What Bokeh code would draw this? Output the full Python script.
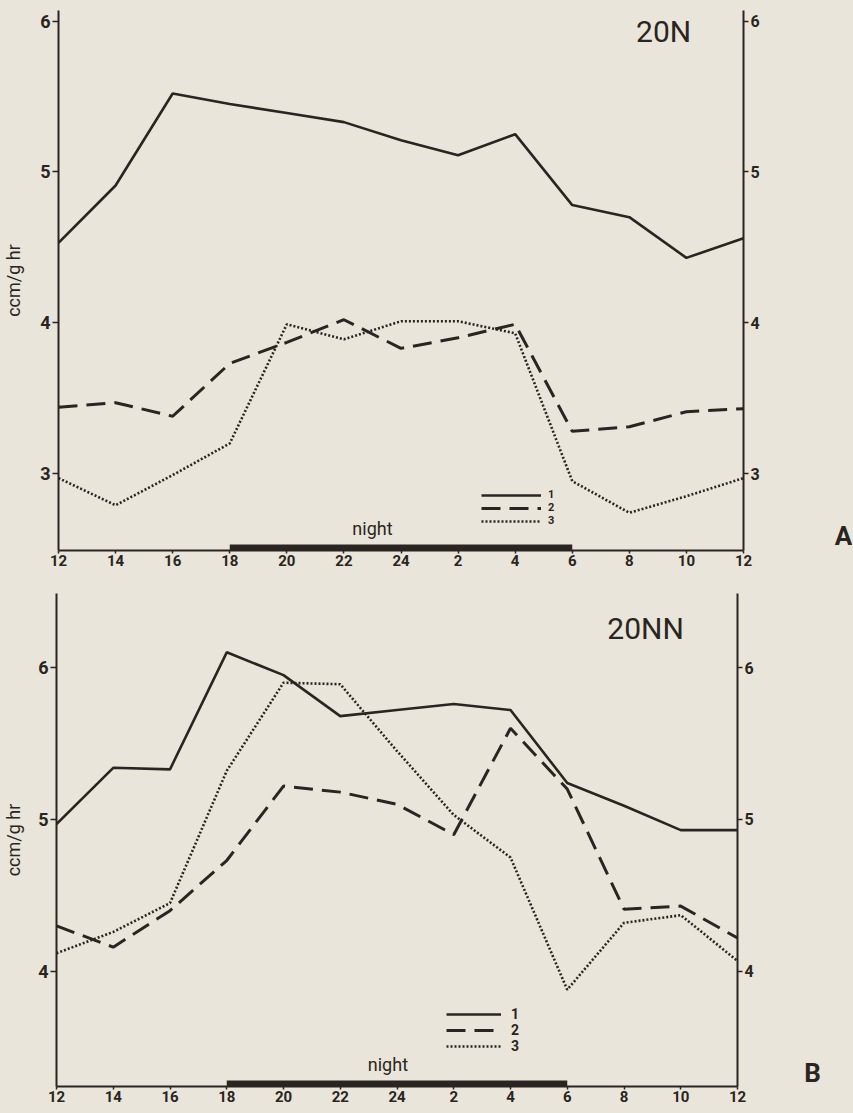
from bokeh.plotting import figure
from bokeh.layouts import column, row
from bokeh.models import Range1d, LinearAxis, FixedTicker, Legend, LegendItem, Label
from bokeh.embed import file_html
from bokeh.resources import INLINE

# ---- data ----
hours = [12, 14, 16, 18, 20, 22, 24, 26, 28, 30, 32, 34, 36]
hour_labels = ["12", "14", "16", "18", "20", "22", "24", "2", "4", "6", "8", "10", "12"]
night_start = [18]
night_end = [30]

# Panel A (20N)
a_series1 = [4.53, 4.91, 5.52, 5.45, 5.39, 5.33, 5.21, 5.11, 5.25, 4.78, 4.70, 4.43, 4.56]
a_series2 = [3.44, 3.47, 3.38, 3.73, 3.87, 4.02, 3.83, 3.90, 3.99, 3.28, 3.31, 3.41, 3.43]
a_series3 = [2.97, 2.79, 2.99, 3.20, 3.99, 3.89, 4.01, 4.01, 3.93, 2.95, 2.74, 2.85, 2.97]
a_yticks = [3, 4, 5, 6]

# Panel B (20NN)
b_series1 = [4.97, 5.34, 5.33, 6.10, 5.95, 5.68, 5.72, 5.76, 5.72, 5.24, 5.09, 4.93, 4.93]
b_series2 = [4.30, 4.16, 4.40, 4.73, 5.22, 5.18, 5.10, 4.90, 5.60, 5.20, 4.41, 4.43, 4.22]
b_series3 = [4.12, 4.26, 4.45, 5.32, 5.90, 5.89, 5.45, 5.03, 4.75, 3.88, 4.32, 4.37, 4.07]
b_yticks = [4, 5, 6]

BG = "#e9e5da"
INK = "#2a2520"
FONT = "Roboto"


def style_axis(ax, size):
    ax.axis_line_color = INK
    ax.axis_line_width = 2
    ax.major_tick_line_color = INK
    ax.major_tick_line_width = 1.5
    ax.minor_tick_line_color = None
    ax.major_label_text_color = INK
    ax.major_label_text_font = FONT
    ax.major_label_text_font_size = size
    ax.major_label_text_font_style = "bold"


def make_panel(width, height, yr, borders, s1, s2, s3, yticks, title, title_xy,
               night_xy, legend_loc, legend_font, legend_spacing,
               legend_glyph_w, legend_standoff, label_standoff):
    bl, br, bt, bb = borders
    p = figure(width=width, height=height, x_range=Range1d(12, 36), y_range=Range1d(*yr),
               output_backend="svg", toolbar_location=None,
               min_border_left=bl, min_border_right=br, min_border_top=bt, min_border_bottom=bb,
               outline_line_color=None, background_fill_color=BG, border_fill_color=BG)
    p.xgrid.visible = False
    p.ygrid.visible = False

    # x axis
    xa = p.xaxis[0]
    xa.ticker = FixedTicker(ticks=hours)
    xa.major_label_overrides = {h: l for h, l in zip(hours, hour_labels)}
    style_axis(xa, "15px")
    xa.major_tick_in = 0
    xa.major_tick_out = 3
    xa.major_label_standoff = 1

    # left y axis
    ya = p.yaxis[0]
    ya.ticker = FixedTicker(ticks=yticks)
    style_axis(ya, "18px")
    ya.major_tick_in = 0
    ya.major_tick_out = 6
    ya.major_label_standoff = 2
    ya.axis_label = "ccm/g hr"
    ya.axis_label_text_font = FONT
    ya.axis_label_text_font_size = "18px"
    ya.axis_label_text_font_style = "normal"
    ya.axis_label_text_color = INK
    ya.axis_label_standoff = label_standoff

    # right y axis
    ra = LinearAxis(ticker=FixedTicker(ticks=yticks))
    style_axis(ra, "16px")
    ra.major_tick_in = 0
    ra.major_tick_out = 5
    ra.major_label_standoff = 2
    p.add_layout(ra, "right")

    # night bar
    bar_h = (yr[1] - yr[0]) * 6.0 / (height - bt - bb)
    p.quad(left=night_start, right=night_end, bottom=[yr[0]], top=[yr[0] + bar_h],
           fill_color=INK, line_color=None)

    r1 = p.line(hours, s1, line_color=INK, line_width=2.6)
    r2 = p.line(hours, s2, line_color=INK, line_width=3, line_dash="19 9")
    r3 = p.line(hours, s3, line_color=INK, line_width=2.6, line_dash="2 2")

    legend = Legend(items=[LegendItem(label="1", renderers=[r1]),
                           LegendItem(label="2", renderers=[r2]),
                           LegendItem(label="3", renderers=[r3])],
                    location=legend_loc, orientation="vertical",
                    glyph_width=legend_glyph_w, glyph_height=8, label_height=8,
                    label_standoff=legend_standoff, spacing=legend_spacing,
                    padding=0, margin=0, border_line_color=None,
                    background_fill_alpha=0,
                    label_text_font=FONT, label_text_font_size=legend_font,
                    label_text_font_style="bold", label_text_color=INK)
    p.add_layout(legend)

    p.add_layout(Label(x=title_xy[0], y=title_xy[1], text=title, text_font=FONT,
                       text_font_size="30px", text_color=INK, text_align="center",
                       text_baseline="middle"))
    p.add_layout(Label(x=night_xy[0], y=night_xy[1], text="night", text_font=FONT,
                       text_font_size="18px", text_color=INK, text_align="center",
                       text_baseline="middle"))
    return p


def letter_panel(width, height, borders_tb, letter, xy):
    bt, bb = borders_tb
    fh = height - bt - bb
    q = figure(width=width, height=height, x_range=Range1d(0, width), y_range=Range1d(0, fh),
               output_backend="svg", toolbar_location=None,
               min_border_left=0, min_border_right=0, min_border_top=bt, min_border_bottom=bb,
               x_axis_location=None, y_axis_location=None,
               outline_line_color=None, background_fill_color=BG, border_fill_color=BG)
    q.grid.visible = False
    q.add_layout(Label(x=xy[0], y=xy[1], text=letter, text_font=FONT,
                       text_font_size="26px", text_font_style="bold", text_color=INK,
                       text_align="center", text_baseline="middle"))
    return q


# top panel: canvas 0..580, frame 10..550, frame x 57..743
p1 = make_panel(763, 580, (2.49, 6.07), (57, 20, 10, 30),
                a_series1, a_series2, a_series3, a_yticks,
                "20N", (33.2, 5.93), (23.0, 2.635),
                (423, 23), "11px", 0, 60, 7, 13)
l1 = letter_panel(89, 580, (10, 30), "A", (80, 15))

# bottom panel: canvas 580..1112, frame 593..1086, frame x 55..737
p2 = make_panel(757, 532, (3.243, 6.487), (55, 20, 13, 26),
                b_series1, b_series2, b_series3, b_yticks,
                "20NN", (32.76, 6.257), (23.68, 3.39),
                (390, 32), "14px", 0, 55, 10, 11)
l2 = letter_panel(95, 532, (13, 26), "B", (55, 14))

layout = column(row(p1, l1, spacing=0), row(p2, l2, spacing=0), spacing=0)
html = file_html(layout, INLINE)
html = html.replace("</head>", "<style>html,body{background-color:%s;}</style></head>" % BG, 1)
open("out.html", "w").write(html)
